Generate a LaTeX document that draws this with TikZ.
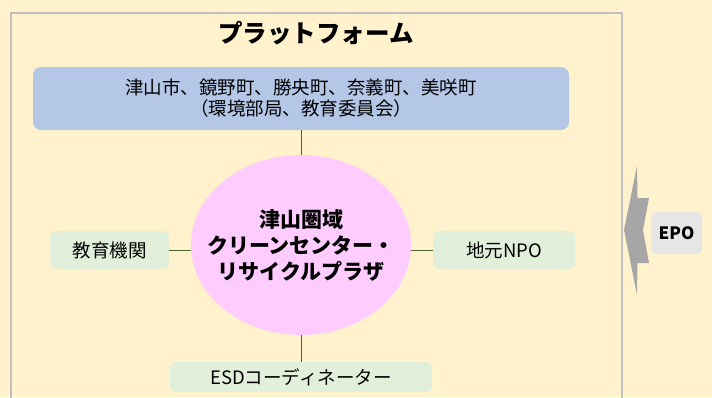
\documentclass[tikz,border=0pt]{standalone}
\usepackage{fontspec}
\setmainfont{Noto Sans CJK JP}
\usetikzlibrary{positioning,shapes.geometric}
\definecolor{haikei}{HTML}{FFF2CC}
\definecolor{aoiro}{HTML}{B4C7E7}
\definecolor{momoiro}{HTML}{FFCCFF}
\definecolor{midori}{HTML}{E2EFDA}
\definecolor{haiiro}{HTML}{E7E6E6}
\definecolor{yajirushi}{HTML}{A6A6A6}
\definecolor{senshoku}{HTML}{4F6228}
\tikzset{
  waku/.style     = {draw=black!25, line width=1.6pt},
  midashi/.style  = {font=\fontsize{24.5}{28}\selectfont\bfseries},
  jichitai/.style = {rectangle, rounded corners=8pt, fill=aoiro, minimum width=536pt, minimum height=63pt, align=center, font=\fontsize{18.5}{21}\selectfont},
  chushin/.style  = {ellipse, fill=momoiro, inner sep=0pt, minimum width=220pt, minimum height=180pt},
  chumoji/.style  = {align=center, font=\fontsize{21}{26}\selectfont\bfseries},
  renkei/.style   = {rectangle, rounded corners=6pt, fill=midori, minimum height=38pt, font=\fontsize{18.5}{21}\selectfont},
  gaibu/.style    = {rectangle, rounded corners=6pt, fill=haiiro, minimum width=51pt, minimum height=42pt, font=\fontsize{17}{20}\selectfont\bfseries},
  sen/.style      = {draw=senshoku, line width=0.8pt}
}
\begin{document}
\begin{tikzpicture}[x=1pt,y=-1pt]
  \useasboundingbox (0,0) rectangle (712,397);
  \clip (0,0) rectangle (712,397);
  \fill[haikei] (0,0) rectangle (712,397);
  \draw[waku] (11,420) -- (11,13) -- (622,13) -- (622,420);

  \node[midashi] (pf) at (316,33) {プラットフォーム};
  \node[jichitai] (J) at (301,98.5) {津山市、鏡野町、勝央町、奈義町、美咲町\\（環境部局、教育委員会）};
  \node[chushin] (C) at (301,245) {};
  \node[chumoji] (Cm) at (C) {津山圏域\\クリーンセンター・\\リサイクルプラザ};

  \node[renkei, minimum width=119pt] (k) at (109.5,250) {教育機関};
  \node[renkei, minimum width=142pt] (n) at (504,250) {地元NPO};
  \node[renkei, minimum width=262pt, minimum height=30pt] (e) at (301,377) {ESDコーディネーター};
  \node[gaibu] (epo) at (676.5,233) {EPO};

  \draw[sen] (J.south) -- (C.north);
  \draw[sen] (k.east) -- (k.east -| C.west);
  \draw[sen] (n.west) -- (n.west -| C.east);
  \draw[sen] (C.south) -- (e.north);

  \fill[yajirushi] (637,166) -- (637.5,198) -- (649,198) -- (643,230) -- (649,263)
    -- (637.5,263) -- (637,295) -- (624,230) -- cycle;
\end{tikzpicture}
\end{document}
